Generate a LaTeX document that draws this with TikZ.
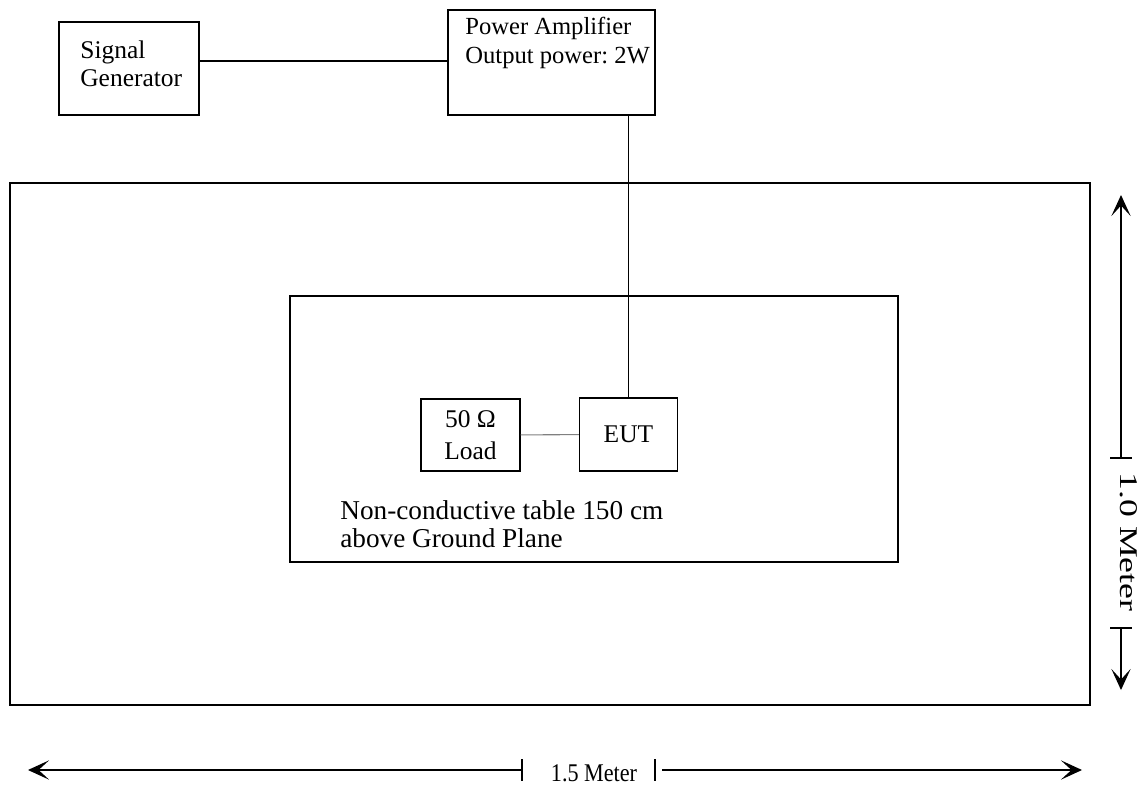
\documentclass[tikz,border=0pt]{standalone}
\usepackage{fontspec}
\setmainfont{Liberation Serif}
\usetikzlibrary{arrows.meta}
\frenchspacing
\begin{document}
\begin{tikzpicture}[x=0.02cm, y=-0.02cm,
    boxstyle/.style={draw, line width=0.8pt, inner sep=0pt, align=center},
    labelstyle/.style={inner sep=0pt, align=left, font=\fontsize{14.5}{16}\selectfont},
    dimstyle/.style={line width=0.7pt},
    dimtip/.style={-{Stealth[length=12pt, width=11pt, inset=6pt]}}]
    \useasboundingbox (0,0) rectangle (1139,791);

    % ground plane and table
    \node[boxstyle, line width=1.4pt, minimum width=21.6cm, minimum height=10.44cm] (plane) at (550,444) {};
    \node[boxstyle, minimum width=12.16cm, minimum height=5.32cm] (table) at (594,429) {};
    \node[labelstyle, font=\fontsize{15.5}{16}\selectfont, anchor=west] (tabletext) at (340,524) {Non-conductive table 150 cm\\above Ground Plane};

    % equipment
    \node[boxstyle, minimum width=2.8cm, minimum height=1.86cm] (siggen) at (129,68.5) {};
    \node[labelstyle, anchor=west] (siggentext) at (80,64) {Signal\\Generator};
    \node[boxstyle, minimum width=4.14cm, minimum height=2.1cm] (amp) at (551.5,62.5) {};
    \node[labelstyle, font=\fontsize{14}{16}\selectfont, anchor=west] (amptext) at (465,43) {Power Amplifier\\Output power: 2W};
    \node[boxstyle, font=\fontsize{14.5}{18}\selectfont, minimum width=1.98cm, minimum height=1.44cm] (load) at (470.5,435) {50 Ω\\Load};
    \node[boxstyle, font=\fontsize{14.5}{16}\selectfont, minimum width=1.96cm, minimum height=1.46cm] (eut) at (628.5,434.5) {EUT};

    % cables
    \draw[line width=0.8pt] (siggen.east |- 0,61) -- (amp.west |- 0,61);
    \draw[line width=0.8pt] (amp.south -| eut.north) -- (eut.north);
    \draw[line width=0.6pt, gray] (load) -- (eut);

    % 1.0 Meter
    \coordinate (vtop) at (1121,195);
    \coordinate (vbot) at (1121,690);
    \coordinate (vtick1) at (1121,458);
    \coordinate (vtick2) at (1121,628);
    \node[labelstyle, rotate=-90, xscale=1.4] (vtext) at (1129,542) {1.0 Meter};
    \draw[dimstyle, dimtip] (vtick1) -- (vtop);
    \draw[dimstyle, dimtip] (vtick2) -- (vbot);
    \draw[dimstyle] ([xshift=-0.22cm]vtick1) -- ([xshift=0.22cm]vtick1)
        ([xshift=-0.22cm]vtick2) -- ([xshift=0.22cm]vtick2);

    % 1.5 Meter
    \coordinate (hleft) at (28,770);
    \coordinate (hright) at (1082,770);
    \coordinate (htick1) at (522,770);
    \coordinate (htick2) at (655,770);
    \coordinate (hstart) at (662,770);
    \node[labelstyle, xscale=0.87] (htext) at (594,773) {1.5 Meter};
    \draw[dimstyle, dimtip] (htick1) -- (hleft);
    \draw[dimstyle, dimtip] (hstart) -- (hright);
    \draw[dimstyle] ([yshift=0.22cm]htick1) -- ([yshift=-0.22cm]htick1)
        ([yshift=0.22cm]htick2) -- ([yshift=-0.22cm]htick2);
\end{tikzpicture}
\end{document}
